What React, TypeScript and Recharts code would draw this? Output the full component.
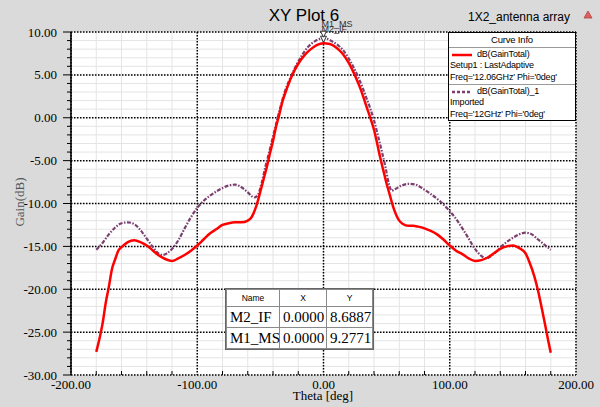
import React from "react";
import { LineChart, Line, XAxis, YAxis, CartesianGrid, Legend, ReferenceDot } from "recharts";

// dB(GainTotal), Setup1 : LastAdaptive
const adaptiveTheta = [
  -180, -177.5, -175, -172.5, -170, -167.5, -165, -162.5, -160, -155, -150, -145, -140, -135, -130, -125,
  -120, -115, -110, -105, -100, -95, -90, -85, -80, -75, -70, -65, -60, -57, -53, -50, -47.5, -45, -42.5,
  -40, -37.5, -35, -32.5, -30, -25, -20, -15, -10, -5, 0, 5, 10, 15, 20, 25, 30, 32.5, 35, 37.5, 40, 42.5,
  45, 47.5, 50, 52.5, 55, 57.5, 60, 63, 67, 71, 75, 80, 85, 90, 95, 100, 105, 110, 115, 120, 125, 130, 135,
  140, 145, 150, 155, 160, 163, 167, 170, 173, 175.5, 178, 180,
];
const adaptiveGain = [
  -27.3, -25.8, -24.0, -21.6, -19.7, -17.6, -16.5, -15.5, -15.1, -14.5, -14.3, -14.5, -14.9, -15.5, -16.1, -16.5,
  -16.7, -16.4, -16.0, -15.5, -14.9, -14.2, -13.5, -13.0, -12.5, -12.3, -12.2, -12.2, -12.0, -11.6, -10.2, -8.6, -7.2, -5.8, -4.2,
  -2.7, -1.0, 0.4, 1.9, 3.0, 4.9, 6.3, 7.3, 8.0, 8.5, 8.6887, 8.6, 8.2, 7.5, 6.4, 4.9, 3.1, 2.0, 0.9, -0.2, -1.4, -3.0,
  -4.7, -6.2, -7.7, -9.0, -10.3, -11.3, -12.0, -12.4, -12.6, -12.6, -12.7, -12.9, -13.2, -13.6, -14.2, -14.9, -15.5, -15.9, -16.4, -16.7, -16.6, -16.3, -15.8,
  -15.3, -15.0, -14.9, -15.2, -15.8, -16.8, -18.5, -20.2, -22.3, -24.1, -26.0, -27.4,
];

// dB(GainTotal)_1, Imported
const importedTheta = [
  -180, -175, -170, -165, -160, -155, -150, -145, -140, -135, -130, -127, -124, -120, -115, -110, -105, -100,
  -95, -90, -85, -80, -75, -70, -65, -60, -55, -52, -49, -46, -43, -40, -37, -34, -31, -27, -22, -17, -12, -7,
  -3, 0, 3, 7, 12, 17, 22, 27, 31, 34, 37, 40, 43, 46, 49, 52, 54, 57, 62, 68, 73, 79, 85, 92, 100, 105, 110,
  115, 120, 125, 129, 133, 137, 141, 145, 150, 155, 160, 165, 170, 175, 180,
];
const importedGain = [
  -15.4, -14.6, -13.6, -12.8, -12.3, -12.2, -12.4, -13.1, -14.1, -15.1, -15.9, -16.0, -15.8, -15.3, -14.3, -12.9, -11.6, -10.5,
  -9.7, -9.1, -8.6, -8.2, -7.9, -7.8, -8.1, -8.7, -9.3, -9.0, -7.6, -5.7, -4.0, -2.2, -0.4, 1.3, 2.9, 4.4, 6.0, 7.3, 8.3, 8.9,
  9.2, 9.2771, 9.2, 8.9, 8.4, 7.6, 6.4, 4.9, 3.5, 2.3, 1.1, -0.3, -2.0, -3.8, -5.7, -7.8, -8.5, -8.3, -7.9, -7.7, -7.8, -8.3, -8.9, -9.7, -10.9, -11.8, -12.9,
  -14.1, -15.3, -16.1, -16.4, -16.1, -15.6, -15.0, -14.5, -14.0, -13.6, -13.4, -13.6, -14.2, -14.8, -15.4,
];

const yMajorTicks = [-30, -25, -20, -15, -10, -5, 0, 5, 10];
const yMinorTicks = Array.from({ length: 41 }, (_, i) => i - 30);
const xMajorTicks = [-200, -100, 0, 100, 200];
const xMinorTicks = Array.from({ length: 21 }, (_, i) => -200 + i * 20);

const markerNames = ["M2_IF", "M1_MS"];
const markerTheta = [0, 0];
const markerGain = [8.6887, 9.2771];

const curveNames = ["dB(GainTotal)", "dB(GainTotal)_1"];
const curveInfo = [
  ["Setup1 : LastAdaptive", "Freq='12.06GHz' Phi='0deg'"],
  ["Imported", "Freq='12GHz' Phi='0deg'"],
];
const curveColors = ["#ff0000", "#7b3f70"];
const curveDashes = [undefined, "4 1.5 1.5 1.5"];

const SERIF = "'Liberation Serif', 'Times New Roman', serif";
const SANS = "'Liberation Sans', Arial, sans-serif";

const adaptiveData = adaptiveTheta.map((theta, i) => ({ theta, gain: adaptiveGain[i] }));
const importedData = importedTheta.map((theta, i) => ({ theta, gain: importedGain[i] }));

const YTick = (props: any) => {
  const { x, y, payload } = props;
  const v = payload.value;
  const major = v % 5 === 0;
  return (
    <g>
      <line x1={x - (major ? 8 : 4)} x2={x} y1={y} y2={y} stroke="#000" strokeWidth={1} />
      {major && (
        <text x={x - 14} y={y} dy={4.5} textAnchor="end" fontFamily={SERIF} fontSize={13} fill="#000">
          {v.toFixed(2)}
        </text>
      )}
    </g>
  );
};

const XTick = (props: any) => {
  const { x, y, payload } = props;
  const v = payload.value;
  const major = v % 100 === 0;
  return (
    <g>
      {!major && <line x1={x} x2={x} y1={y} y2={y - 4} stroke="#000" strokeWidth={1} />}
      {major && (
        <text x={x} y={y + 13.5} textAnchor="middle" fontFamily={SERIF} fontSize={13} fill="#000">
          {v.toFixed(2)}
        </text>
      )}
    </g>
  );
};

const MarkerGlyph = (props: any) => {
  const { cx, cy, name } = props;
  return (
    <g>
      <polygon
        points={`${cx - 3},${cy - 7} ${cx + 3},${cy - 7} ${cx},${cy - 1}`}
        fill="#fff"
        stroke="#333"
        strokeWidth={1}
      />
      <text x={cx - 2} y={cy - 11.5} fontFamily={SANS} fontSize={9} fill="#333">
        {name}
      </text>
    </g>
  );
};

const CurveInfo = () => (
  <div
    style={{
      width: 128,
      height: 89,
      boxSizing: "border-box",
      background: "#fff",
      border: "1px solid #000",
      fontFamily: SANS,
      fontSize: 9,
      letterSpacing: -0.2,
      color: "#000",
      textAlign: "left",
    }}
  >
    <div style={{ height: 14, lineHeight: "14px", textAlign: "center", borderBottom: "1px solid #9a9a9a", fontSize: 9.5 }}>
      Curve Info
    </div>
    {curveNames.map((name, i) => (
      <div
        key={name}
        style={{
          height: i === 0 ? 37 : 36,
          boxSizing: "border-box",
          borderBottom: i === 0 ? "1px solid #9a9a9a" : "none",
          padding: "1px 0 0 1px",
          lineHeight: "11.4px",
          whiteSpace: "nowrap",
        }}
      >
        <div style={{ display: "flex", alignItems: "center", height: 11.4 }}>
          <svg width={24} height={8} style={{ display: "block" }}>
            <line x1={2} x2={22} y1={4} y2={4} stroke={curveColors[i]} strokeWidth={2.5} strokeDasharray={i === 0 ? undefined : "3 2"} />
          </svg>
          <span style={{ marginLeft: 3 }}>{name}</span>
        </div>
        {curveInfo[i].map((t) => (
          <div key={t}>{t}</div>
        ))}
      </div>
    ))}
  </div>
);

const cell: React.CSSProperties = { border: "1px solid #8a8a8a", padding: "0 0 0 3px", textAlign: "left" };

export default function App() {
  return (
    <div style={{ position: "absolute", left: 0, top: 0, width: 600, height: 407, background: "#dadada", overflow: "hidden" }}>
      <LineChart width={600} height={407} margin={{ top: 32, right: 24, bottom: 0, left: 0 }}>
        <XAxis
          dataKey="theta"
          type="number"
          domain={[-200, 200]}
          ticks={xMinorTicks}
          interval={0}
          allowDataOverflow
          height={32}
          tickSize={0}
          tickMargin={0}
          axisLine={false}
          tickLine={false}
          tick={XTick}
        />
        <YAxis
          type="number"
          domain={[-30, 10]}
          ticks={yMinorTicks}
          interval={0}
          allowDataOverflow
          width={71}
          tickSize={0}
          tickMargin={0}
          axisLine={{ stroke: "#000", strokeWidth: 1.5 }}
          tickLine={false}
          tick={YTick}
        />
        <XAxis xAxisId="major" dataKey="theta" type="number" domain={[-200, 200]} ticks={xMajorTicks} allowDataOverflow hide />
        <YAxis yAxisId="major" type="number" domain={[-30, 10]} ticks={yMajorTicks} allowDataOverflow hide />
        <CartesianGrid stroke="#e4e4e4" strokeWidth={1} fill="#fff" />
        <CartesianGrid xAxisId="major" yAxisId="major" stroke="#000" strokeWidth={1.5} strokeDasharray="1.5 1.5" />
        <Line
          data={importedData}
          dataKey="gain"
          name={curveNames[1]}
          type="monotone"
          stroke={curveColors[1]}
          strokeWidth={2.2}
          strokeDasharray={curveDashes[1]}
          dot={false}
          isAnimationActive={false}
        />
        <Line
          data={adaptiveData}
          dataKey="gain"
          name={curveNames[0]}
          type="monotone"
          stroke={curveColors[0]}
          strokeWidth={2.5}
          dot={false}
          isAnimationActive={false}
        />
        {markerNames.map((name, i) => (
          <ReferenceDot
            key={name}
            x={markerTheta[i]}
            y={markerGain[i]}
            r={0}
            ifOverflow="visible"
            shape={(p: any) => <MarkerGlyph {...p} name={name} />}
          />
        ))}
        <Legend
          layout="vertical"
          align="center"
          verticalAlign="middle"
          content={CurveInfo}
          wrapperStyle={{ position: "absolute", left: 448, top: 32, width: 128, height: 89 }}
        />
      </LineChart>

      <svg width={600} height={407} style={{ position: "absolute", left: 0, top: 0, pointerEvents: "none" }}>
        <text x={304} y={21} textAnchor="middle" fontFamily={SANS} fontSize={17} fill="#000">
          XY Plot 6
        </text>
        <text x={519} y={21} textAnchor="middle" fontFamily={SANS} fontSize={12} fill="#000">
          1X2_antenna array
        </text>
        <polygon points="584,18 588,11 592,18" fill="#e06060" stroke="#b04040" strokeWidth={0.8} />
        <text
          x={24}
          y={202}
          transform="rotate(-90 24 202)"
          textAnchor="middle"
          fontFamily={SERIF}
          fontSize={13}
          fill="#555"
        >
          Gain(dB)
        </text>
        <text x={323} y={400} textAnchor="middle" fontFamily={SERIF} fontSize={13} fill="#000">
          Theta [deg]
        </text>
      </svg>

      <div style={{ position: "absolute", left: 225, top: 288, background: "#fff", border: "1px solid #666" }}>
        <table style={{ borderCollapse: "collapse", tableLayout: "fixed", width: 146 }}>
          <colgroup>
            <col style={{ width: 53 }} />
            <col style={{ width: 47 }} />
            <col style={{ width: 46 }} />
          </colgroup>
          <thead>
            <tr style={{ height: 17 }}>
              {["Name", "X", "Y"].map((h) => (
                <th key={h} style={{ ...cell, padding: 0, textAlign: "center", fontFamily: SANS, fontSize: 8.5, fontWeight: "normal" }}>
                  {h}
                </th>
              ))}
            </tr>
          </thead>
          <tbody>
            {[0, 1].map((i) => (
              <tr key={markerNames[i]} style={{ height: 21, fontFamily: SERIF, fontSize: 15, lineHeight: "19px" }}>
                <td style={cell}>{markerNames[i]}</td>
                <td style={cell}>{markerTheta[i].toFixed(4)}</td>
                <td style={cell}>{markerGain[i].toFixed(4)}</td>
              </tr>
            ))}
          </tbody>
        </table>
      </div>
    </div>
  );
}
